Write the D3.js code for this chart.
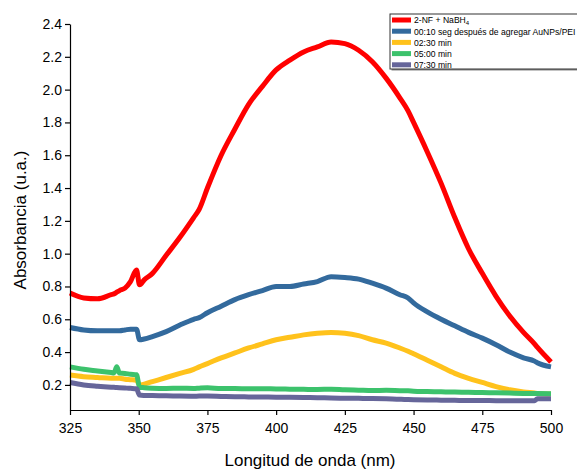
<!DOCTYPE html>
<html>
<head>
<meta charset="utf-8">
<script src="https://cdn.jsdelivr.net/npm/d3@7/dist/d3.min.js"></script>
<style>
  html, body { margin: 0; padding: 0; background: #fff; }
  svg { display: block; font-family: "Liberation Sans", Arial, sans-serif; }
</style>
</head>
<body>
<svg id="chart" width="577" height="469"></svg>
<script>
// Wavelength grid (nm)
const wavelength = [325, 330, 335, 340, 341, 342, 343, 345, 347, 349.2, 350.3, 352, 355, 360, 365, 370, 372, 375,
  380, 385, 390, 395, 400, 405, 410, 415, 420, 425, 430, 435, 440, 445, 448, 450, 455, 460, 465, 470, 475, 480,
  485, 490, 494, 495, 500];

// Absorbance spectra
const nf_nabh4 = [0.76, 0.73, 0.725, 0.75, 0.755, 0.765, 0.775, 0.79, 0.83, 0.90, 0.81, 0.84, 0.88, 0.99, 1.10, 1.22, 1.27, 1.40,
  1.60, 1.76, 1.91, 2.02, 2.12, 2.18, 2.23, 2.26, 2.29, 2.28, 2.24, 2.17, 2.07, 1.95, 1.87, 1.80, 1.62, 1.43, 1.22, 1.03, 0.88, 0.74,
  0.62, 0.52, 0.45, 0.43, 0.34];
const t0010 = [0.55, 0.535, 0.53, 0.53, 0.53, 0.53, 0.53, 0.535, 0.54, 0.54, 0.475, 0.48, 0.495, 0.525, 0.565, 0.60, 0.61, 0.64,
  0.68, 0.72, 0.75, 0.775, 0.80, 0.80, 0.815, 0.83, 0.86, 0.855, 0.845, 0.82, 0.79, 0.75, 0.73, 0.70, 0.645, 0.60, 0.56, 0.52, 0.485, 0.445,
  0.40, 0.365, 0.345, 0.335, 0.31];
const t0230 = [0.26, 0.25, 0.245, 0.24, 0.24, 0.24, 0.24, 0.235, 0.232, 0.228, 0.200, 0.205, 0.22, 0.245, 0.27, 0.295, 0.31, 0.33,
  0.365, 0.395, 0.425, 0.45, 0.475, 0.49, 0.505, 0.515, 0.52, 0.515, 0.50, 0.475, 0.455, 0.425, 0.405, 0.39, 0.35, 0.31, 0.27, 0.24, 0.215, 0.19,
  0.17, 0.157, 0.15, 0.148, 0.145];
const t0500 = [0.31, 0.295, 0.285, 0.275, 0.273, 0.31, 0.272, 0.27, 0.265, 0.262, 0.186, 0.183, 0.18, 0.178, 0.18, 0.178, 0.18, 0.182,
  0.178, 0.178, 0.176, 0.177, 0.175, 0.174, 0.173, 0.172, 0.174, 0.17, 0.168, 0.166, 0.167, 0.165, 0.164, 0.162, 0.16, 0.158, 0.156, 0.155, 0.153, 0.152,
  0.15, 0.148, 0.147, 0.147, 0.146];
const t0730 = [0.215, 0.2, 0.192, 0.186, 0.185, 0.184, 0.183, 0.181, 0.179, 0.176, 0.138, 0.136, 0.135, 0.134, 0.132, 0.131, 0.132, 0.132,
  0.13, 0.128, 0.127, 0.126, 0.125, 0.124, 0.123, 0.122, 0.12, 0.119, 0.118, 0.117, 0.115, 0.112, 0.111, 0.11, 0.108, 0.107, 0.106, 0.105, 0.105, 0.104,
  0.104, 0.104, 0.104, 0.115, 0.115];

const seriesNames = ["2-NF + NaBH4", "00:10 seg después de agregar AuNPs/PEI", "02:30 min", "05:00 min", "07:30 min"];
const seriesValues = [nf_nabh4, t0010, t0230, t0500, t0730];
const seriesColors = ["#ff0000", "#336a9d", "#ffc21c", "#3cc26c", "#66669a"];

const xTicks = [325, 350, 375, 400, 425, 450, 475, 500];
const yTicks = [0.2, 0.4, 0.6, 0.8, 1.0, 1.2, 1.4, 1.6, 1.8, 2.0, 2.2, 2.4];

const svg = d3.select("#chart");
const x = d3.scaleLinear().domain([325, 500]).range([70, 551]);
const y = d3.scaleLinear().domain([0.047, 2.4]).range([410, 24]);

// Spectra
const line = d3.line()
  .x(d => x(d[0]))
  .y(d => y(d[1]))
  .curve(d3.curveMonotoneX);

svg.append("g").selectAll("path")
  .data(seriesValues.map((vals, i) => ({ vals, color: seriesColors[i] })))
  .join("path")
  .attr("fill", "none")
  .attr("stroke", d => d.color)
  .attr("stroke-width", 5)
  .attr("stroke-linejoin", "round")
  .attr("stroke-linecap", "butt")
  .attr("d", d => line(wavelength.map((w, j) => [w, d.vals[j]])));

// Axes
const xAxis = svg.append("g")
  .attr("transform", "translate(0,410)")
  .call(d3.axisBottom(x).tickValues(xTicks).tickFormat(d3.format("d")).tickSize(5).tickSizeOuter(0));
const yAxis = svg.append("g")
  .attr("transform", "translate(70,0)")
  .call(d3.axisLeft(y).tickValues(yTicks).tickFormat(d3.format(".1f")).tickSize(5).tickSizeOuter(0));

[xAxis, yAxis].forEach(g => {
  g.select(".domain").attr("stroke", "#000").attr("stroke-width", 1.2);
  g.selectAll(".tick line").attr("stroke", "#000").attr("stroke-width", 1.2);
  g.selectAll(".tick text").attr("fill", "#000").style("font-size", "14px")
    .style("font-family", "'Liberation Sans', Arial, sans-serif");
});
xAxis.selectAll(".tick text").attr("dy", "1.05em");
yAxis.selectAll(".tick text").attr("x", -8);

// Axis titles
svg.append("text")
  .attr("x", 310).attr("y", 466)
  .attr("text-anchor", "middle")
  .style("font-size", "17px")
  .text("Longitud de onda (nm)");
svg.append("text")
  .attr("transform", "translate(26,220) rotate(-90)")
  .attr("text-anchor", "middle")
  .style("font-size", "17px")
  .text("Absorbancia (u.a.)");

// Legend
const lg = svg.append("g").attr("transform", "translate(390,14)");
lg.append("rect")
  .attr("x", 1.5).attr("y", 1.5).attr("width", 200).attr("height", 55)
  .attr("fill", "#888");
lg.append("rect")
  .attr("x", 0).attr("y", 0).attr("width", 200).attr("height", 55)
  .attr("fill", "#fff").attr("stroke", "#333").attr("stroke-width", 1);

const rows = lg.selectAll("g.row")
  .data(seriesNames.map((n, i) => ({ n, c: seriesColors[i] })))
  .join("g").attr("class", "row")
  .attr("transform", (d, i) => `translate(0,${6 + i * 11.2})`);
rows.append("rect")
  .attr("x", 2).attr("y", -2.5).attr("width", 19).attr("height", 5)
  .attr("fill", d => d.c);
const labels = rows.append("text")
  .attr("x", 24).attr("y", 3.3)
  .style("font-size", "8.6px")
  .attr("fill", "#000");
labels.each(function (d) {
  const t = d3.select(this);
  if (d.n === "2-NF + NaBH4") {
    t.append("tspan").text("2-NF + NaBH");
    t.append("tspan").attr("dy", 2).style("font-size", "6px").text("4");
  } else {
    t.text(d.n);
  }
});
</script>
</body>
</html>
